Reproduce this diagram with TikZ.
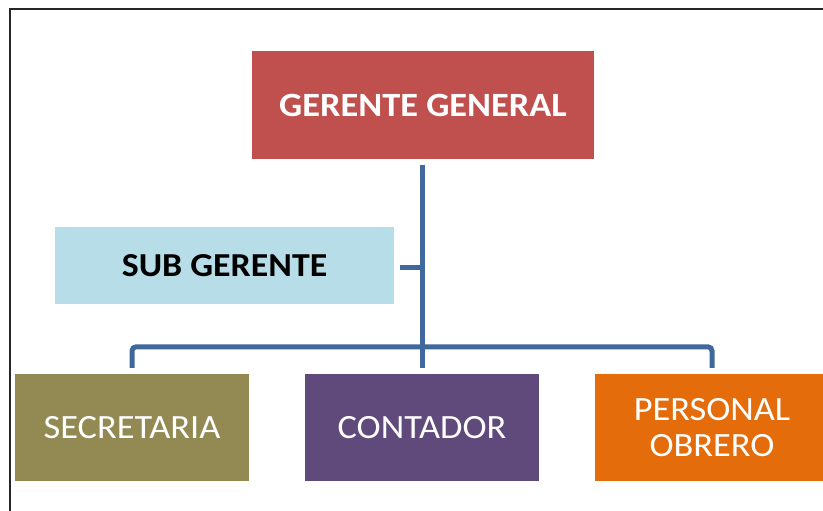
\documentclass[tikz,border=0pt]{standalone}
\usepackage{fontspec}
\setmainfont[FakeStretch=1.07]{Carlito}
\usetikzlibrary{calc}
\definecolor{cred}{HTML}{C0504D}
\definecolor{cblue}{HTML}{B7DEE8}
\definecolor{colive}{HTML}{938953}
\definecolor{cpurple}{HTML}{604A7B}
\definecolor{corange}{HTML}{E46C0A}
\definecolor{cline}{HTML}{41689C}
\tikzset{
  box/.style={rectangle, inner sep=0pt, minimum width=234pt, minimum height=107pt, text=white, align=center, font=\fontsize{34}{36}\selectfont},
  conn/.style={draw=cline, line width=5pt},
}
\begin{document}
\begin{tikzpicture}[x=1pt,y=-1pt]
\useasboundingbox (0,0) rectangle (823,511);
\fill[white] (-5,-5) rectangle (830,520);
\draw[black!85, line width=1.8pt] (10,520) -- (10,9) -- (830,9);
\node[box, fill=cred, minimum width=342pt, minimum height=108pt, font=\bfseries\fontsize{34}{36}\selectfont] (G) at (423,105) {GERENTE GENERAL};
\node[box, fill=cblue, text=black, minimum width=339pt, minimum height=77pt, font=\bfseries\fontsize{33.5}{35}\selectfont] (SG) at (224.5,265.5) {SUB GERENTE};
\node[box, fill=colive] (S) at (132,427.5) {SECRETARIA};
\node[box, fill=cpurple] (C) at (422,427.5) {CONTADOR};
\node[box, fill=corange] (P) at (712,427.5) {PERSONAL\\OBRERO};
\draw[conn, shorten <=6pt, shorten >=6pt] (G.south -| C.north) -- (C.north);
\draw[conn] ($(SG.east)+(6,1.5)$) -- ($(SG.east -| C.north)+(0,1.5)$);
\draw[conn, rounded corners=4pt] ($(S.north)+(0,-6)$) |- ($(P.north)+(0,-27)$) -- ($(P.north)+(0,-6)$);
\end{tikzpicture}
\end{document}
